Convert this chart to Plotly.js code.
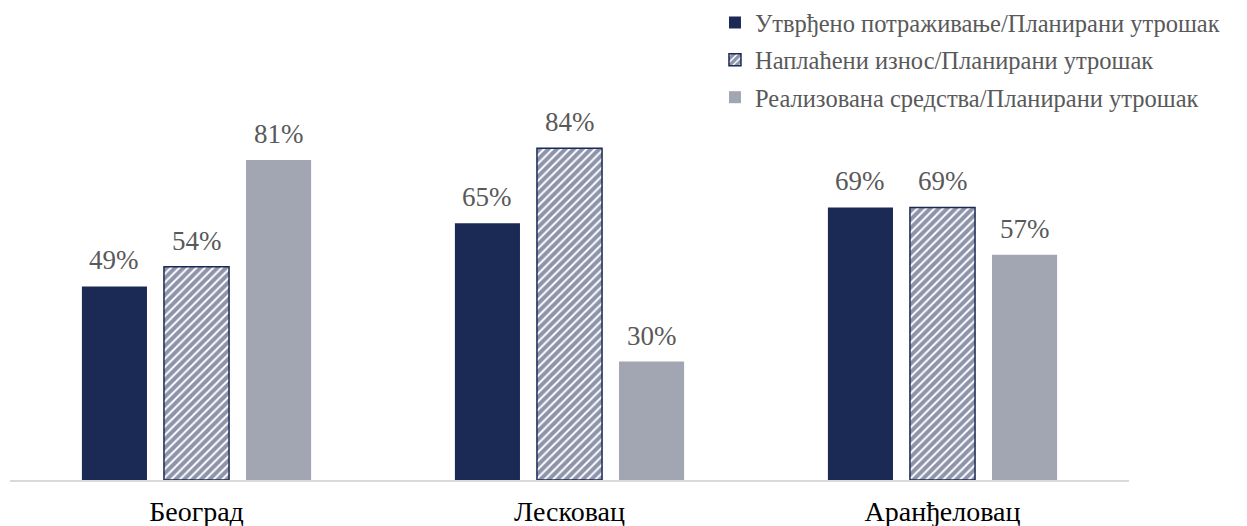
<!DOCTYPE html>
<html><head><meta charset="utf-8">
<script src="https://cdn.plot.ly/plotly-3.0.1.min.js"></script>
<style>html,body{margin:0;padding:0;background:#fff}#chart{width:1247px;height:526px}</style>
</head><body><div id="chart"></div>
<script>
const categories = ['Београд', 'Лесковац', 'Аранђеловац'];
const seriesNames = ['Утврђено потраживање/Планирани утрошак', 'Наплаћени износ/Планирани утрошак', 'Реализована средства/Планирани утрошак'];
const utvrdjeno = [0.49, 0.65, 0.69];
const naplaceni = [0.54, 0.84, 0.69];
const realizovana = [0.81, 0.30, 0.57];
const seriesValues = [utvrdjeno, naplaceni, realizovana];

const NAVY = '#1b2a55', GRAY = '#a2a5b2', FONT = 'Liberation Serif';
const styles = [
  {color: NAVY, line: {width: 0}},
  {color: '#ffffff', line: {color: NAVY, width: 1.5}, pattern: {shape: '/', fgcolor: NAVY, bgcolor: '#ffffff', size: 6, solidity: 0.68, fillmode: 'overlay'}},
  {color: GRAY, line: {width: 0}}
];
const traces = seriesValues.map((vals, i) => ({
  type: 'bar', name: seriesNames[i], legendgroup: 'g' + i, x: categories, y: vals, marker: styles[i], hoverinfo: 'none'
}));

const catWidthPx = (1129 - 9.5) / 3;
const slotPx = catWidthPx * (1 - 0.34) / 3;
const annotations = [];
seriesValues.forEach((vals, i) => vals.forEach((v, j) => annotations.push({
  x: categories[j], y: v, xref: 'x', yref: 'y', xshift: (i - 1) * slotPx, yshift: 9,
  yanchor: 'bottom', showarrow: false, text: Math.round(v * 100) + '%',
  font: {family: FONT, size: 27, color: '#595959'}
})));

const layout = {
  width: 1247, height: 526, paper_bgcolor: '#fff', plot_bgcolor: '#fff',
  margin: {l: 9.5, r: 118, t: 85, b: 46, autoexpand: false},
  barmode: 'group', bargap: 0.34, bargroupgap: 0.207,
  font: {family: FONT},
  xaxis: {showline: true, linecolor: '#d9d9d9', linewidth: 2, ticks: '', ticklabelstandoff: 5,
          tickfont: {family: FONT, size: 28, color: '#000'}, showgrid: false, fixedrange: true},
  yaxis: {range: [0, 1], visible: false, showgrid: false, zeroline: false, fixedrange: true},
  showlegend: true,
  legend: {x: 0.63, y: 1.215, xanchor: 'left', yanchor: 'top',
           font: {family: FONT, size: 24.5, color: '#595959'}, tracegroupgap: 2.5, itemwidth: 30,
           traceorder: 'grouped', bgcolor: 'rgba(0,0,0,0)'},
  annotations: annotations
};
Plotly.newPlot('chart', traces, layout, {staticPlot: true, displayModeBar: false});
</script></body></html>
